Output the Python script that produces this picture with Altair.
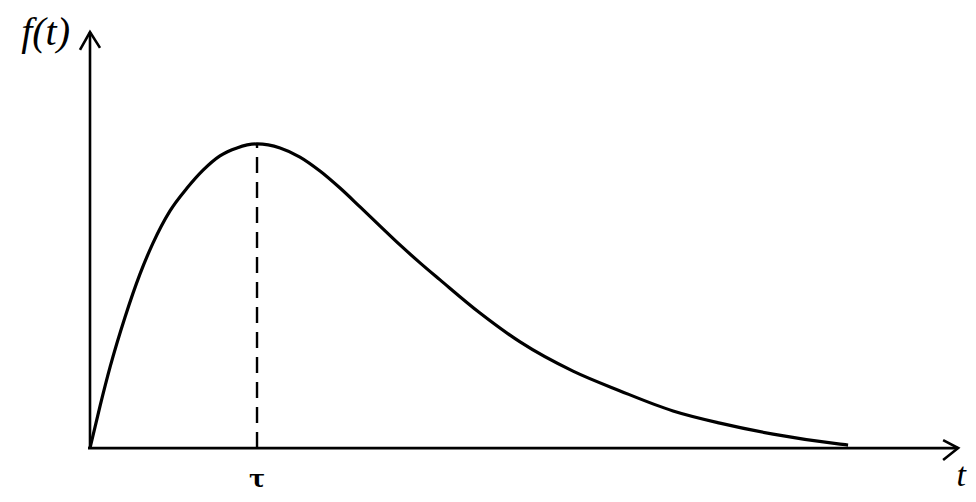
import altair as alt
import pandas as pd

# Curve f(t): t in units of tau (peak at t=1), f normalised to the peak value
t_vals = [0.0, 0.060, 0.120, 0.210, 0.299, 0.377, 0.479, 0.581, 0.677, 0.778,
          0.880, 1.0, 1.138, 1.257, 1.377, 1.497, 1.617, 1.737, 1.856, 1.976,
          2.096, 2.335, 2.575, 2.892, 3.174, 3.491, 3.772, 4.090, 4.491, 4.539]
f_vals = [0.0, 0.138, 0.266, 0.431, 0.572, 0.674, 0.780, 0.855, 0.914, 0.961,
          0.987, 1.0, 0.987, 0.957, 0.911, 0.855, 0.793, 0.730, 0.668, 0.609,
          0.553, 0.444, 0.349, 0.253, 0.188, 0.122, 0.082, 0.046, 0.013, 0.010]

tau = 1.0
peak = 1.0

# axis extents (data units)
x_axis_t = [-0.012, 5.198]
y_axis_f = [0.0, 1.368]

# arrow heads: [wing, tip, wing]
x_arrow_t = [5.108, 5.198, 5.108]
x_arrow_f = [0.026, 0.0, -0.039]
y_arrow_t = [-0.060, 0.0, 0.060]
y_arrow_f = [1.309, 1.368, 1.316]

labels_text = ["f(t)", "t"]
labels_t = [-0.266, 5.216]
labels_f = [1.326, -0.125]
labels_size = [40, 34]
tau_label = "τ"

XDOM = [-0.491, 5.257]
YDOM = [-0.151, 1.447]
W, H = 960, 486

xs = alt.Scale(domain=XDOM, nice=False, zero=False)
ys = alt.Scale(domain=YDOM, nice=False, zero=False)

curve_df = pd.DataFrame({"t": t_vals, "f": f_vals, "o": range(len(t_vals))})
curve = alt.Chart(curve_df).mark_line(color="black", strokeWidth=3.2, interpolate="monotone").encode(
    x=alt.X("t:Q", scale=xs, axis=None),
    y=alt.Y("f:Q", scale=ys, axis=None),
    order="o:Q",
)

xaxis_df = pd.DataFrame({"t": [x_axis_t[0]], "t2": [x_axis_t[1]], "f": [0.0]})
xaxis = alt.Chart(xaxis_df).mark_rule(color="black", strokeWidth=2.6).encode(
    x=alt.X("t:Q", scale=xs, axis=None), x2="t2:Q",
    y=alt.Y("f:Q", scale=ys, axis=None),
)

yaxis_df = pd.DataFrame({"t": [0.0], "f": [y_axis_f[0]], "f2": [y_axis_f[1]]})
yaxis = alt.Chart(yaxis_df).mark_rule(color="black", strokeWidth=2.6).encode(
    x=alt.X("t:Q", scale=xs, axis=None),
    y=alt.Y("f:Q", scale=ys, axis=None), y2="f2:Q",
)

arrows_df = pd.DataFrame({
    "t": x_arrow_t + y_arrow_t,
    "f": x_arrow_f + y_arrow_f,
    "g": ["x"] * 3 + ["y"] * 3,
    "o": [0, 1, 2, 0, 1, 2],
})
arrows = alt.Chart(arrows_df).mark_line(color="black", strokeWidth=2.6, strokeJoin="miter").encode(
    x=alt.X("t:Q", scale=xs, axis=None),
    y=alt.Y("f:Q", scale=ys, axis=None),
    detail="g:N", order="o:Q",
)

dash_df = pd.DataFrame({"t": [tau], "f": [0.0], "f2": [peak]})
dash = alt.Chart(dash_df).mark_rule(color="black", strokeWidth=2.4, strokeDash=[16, 9]).encode(
    x=alt.X("t:Q", scale=xs, axis=None),
    y=alt.Y("f:Q", scale=ys, axis=None), y2="f2:Q",
)

lab_df = pd.DataFrame({"txt": labels_text, "t": labels_t, "f": labels_f, "s": labels_size})
labels = alt.Chart(lab_df).mark_text(font="Liberation Serif", fontStyle="italic",
                                     color="black", align="center", baseline="alphabetic").encode(
    x=alt.X("t:Q", scale=xs, axis=None),
    y=alt.Y("f:Q", scale=ys, axis=None),
    text="txt:N",
    size=alt.Size("s:Q", scale=None, legend=None),
)

tau_df = pd.DataFrame({"txt": [tau_label], "t": [tau], "f": [-0.128]})
tau_text = alt.Chart(tau_df).mark_text(font="DejaVu Serif", fontWeight="bold", fontSize=24,
                                       color="black", align="center", baseline="alphabetic").encode(
    x=alt.X("t:Q", scale=xs, axis=None),
    y=alt.Y("f:Q", scale=ys, axis=None),
    text="txt:N",
)

chart = alt.layer(curve, xaxis, yaxis, arrows, dash, labels, tau_text).properties(
    width=W, height=H, padding=0, autosize=alt.AutoSizeParams(type="none"),
    background="white",
).configure_view(stroke=None)

chart.save("out.html", embed_options={"renderer": "svg", "actions": False})
